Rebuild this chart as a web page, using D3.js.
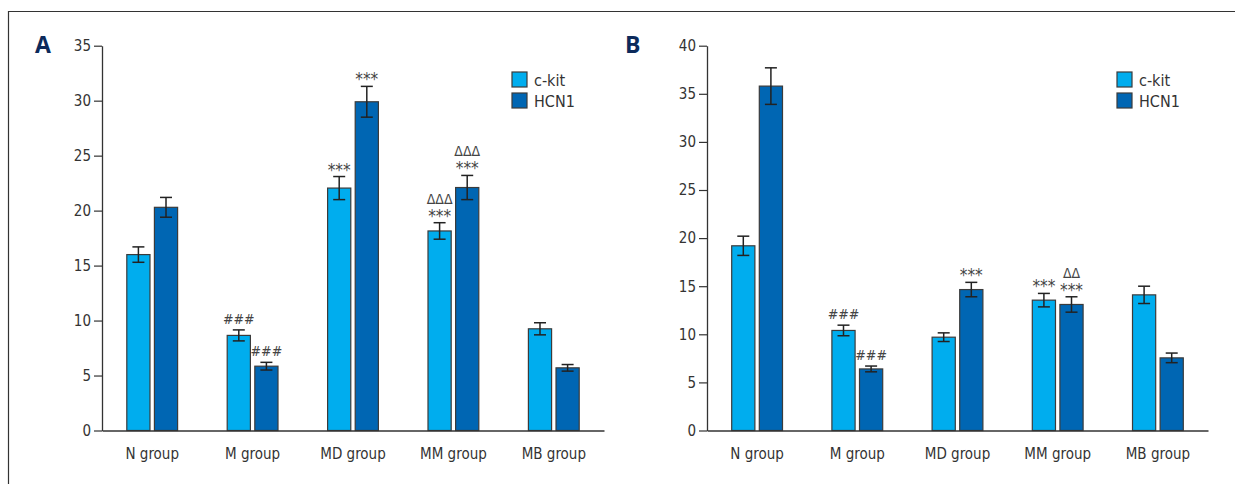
<!DOCTYPE html>
<meta charset="utf-8">
<style>
  body { margin: 0; background: #fff; }
  svg text { font-family: "Liberation Sans Narrow", "DejaVu Sans Condensed", "Open Sans", sans-serif; }
</style>
<body>
<script src="https://cdn.jsdelivr.net/npm/d3@7/dist/d3.min.js"></script>
<script>

    var width = 1235,
        height = 484;

    // data
    var groups = ["N group", "M group", "MD group", "MM group", "MB group"];
    var seriesNames = ["c-kit", "HCN1"];

    var ckitA = [16.0, 8.65, 22.05, 18.15, 9.25];
    var ckitErrA = [0.7, 0.5, 1.05, 0.75, 0.55];
    var hcnA = [20.3, 5.85, 29.9, 22.1, 5.7];
    var hcnErrA = [0.9, 0.35, 1.4, 1.1, 0.3];

    var ckitB = [19.2, 10.4, 9.7, 13.55, 14.1];
    var ckitErrB = [1.0, 0.55, 0.45, 0.7, 0.9];
    var hcnB = [35.8, 6.4, 14.65, 13.1, 7.55];
    var hcnErrB = [1.9, 0.3, 0.75, 0.8, 0.5];

    var ticksA = [0, 5, 10, 15, 20, 25, 30, 35];
    var ticksB = [0, 5, 10, 15, 20, 25, 30, 35, 40];

    // significance marks, per series then per group (top line first)
    var marksA = [
        [[], ["###"], ["***"], ["ΔΔΔ", "***"], []],
        [[], ["###"], ["***"], ["ΔΔΔ", "***"], []]
    ];
    var marksB = [
        [[], ["###"], [], ["***"], []],
        [[], ["###"], ["***"], ["ΔΔ", "***"], []]
    ];

    var colors = ["#00adee", "#0066b3"];

    var svg = d3.select("body").append("svg")
            .attr("width", width)
            .attr("height", height);

    // figure frame (top and left only)
    svg.append("path")
        .attr("d", "M8.5," + height + "V11.5H" + width)
        .attr("fill", "none")
        .attr("stroke", "#333")
        .attr("stroke-width", 1.2);

    drawPanel({
        letter: "A", letterX: 35,
        x0: 102, x1: 604,
        ticks: ticksA,
        values: [ckitA, hcnA],
        errs: [ckitErrA, hcnErrA],
        marks: marksA
    });

    drawPanel({
        letter: "B", letterX: 625,
        x0: 707, x1: 1208,
        ticks: ticksB,
        values: [ckitB, hcnB],
        errs: [ckitErrB, hcnErrB],
        marks: marksB
    });

    function drawPanel(p) {
        var g = svg.append("g");
        var yTop = 45.7, yBot = 430.5;

        var y = d3.scaleLinear()
                .domain([0, d3.max(p.ticks)])
                .range([yBot, yTop]);

        var x = d3.scaleBand()
                .domain(groups)
                .range([p.x0, p.x1])
                .padding(0);

        var xs = d3.scaleBand()
                .domain(seriesNames)
                .range([-25.4, 25.4])
                .paddingInner(0.16);

        // panel letter
        g.append("text")
            .attr("x", p.letterX)
            .attr("y", 53)
            .attr("fill", "#0c2a5b")
            .style("font-family", "'Open Sans', 'DejaVu Sans', sans-serif")
            .style("font-weight", "bold")
            .style("font-size", "23px")
            .text(p.letter);

        // y axis
        var yAxis = g.append("g")
            .attr("transform", "translate(" + p.x0 + ",0)")
            .call(d3.axisLeft(y).tickValues(p.ticks).tickSize(8).tickSizeOuter(0).tickPadding(3));
        yAxis.select(".domain").attr("stroke", "#333").attr("stroke-width", 1.3);
        yAxis.selectAll(".tick line").attr("stroke", "#333").attr("stroke-width", 1.2);
        yAxis.selectAll(".tick text")
            .attr("fill", "#333")
            .style("font-size", "15px");

        // bars
        seriesNames.forEach(function(s, si) {
            var vals = p.values[si], errs = p.errs[si];
            var data = groups.map(function(gr, i) {
                return { group: gr, v: vals[i], e: errs[i], marks: p.marks[si][i] };
            });
            var sg = g.append("g");
            sg.selectAll("rect")
                .data(data)
                .enter().append("rect")
                .attr("x", function(d) { return x(d.group) + x.bandwidth() / 2 + xs(s); })
                .attr("y", function(d) { return y(d.v); })
                .attr("width", xs.bandwidth())
                .attr("height", function(d) { return yBot - y(d.v); })
                .attr("fill", colors[si])
                .attr("stroke", "#3b3b3b")
                .attr("stroke-width", 1.2);

            var eb = sg.selectAll(".err")
                .data(data)
                .enter().append("g")
                .attr("class", "err")
                .attr("transform", function(d) {
                    return "translate(" + (x(d.group) + x.bandwidth() / 2 + xs(s) + xs.bandwidth() / 2) + ",0)";
                })
                .attr("stroke", "#222")
                .attr("stroke-width", 1.5);
            eb.append("line")
                .attr("y1", function(d) { return y(d.v - d.e); })
                .attr("y2", function(d) { return y(d.v + d.e); });
            eb.append("line")
                .attr("x1", -6).attr("x2", 6)
                .attr("y1", function(d) { return y(d.v + d.e); })
                .attr("y2", function(d) { return y(d.v + d.e); });
            eb.append("line")
                .attr("x1", -6).attr("x2", 6)
                .attr("y1", function(d) { return y(d.v - d.e); })
                .attr("y2", function(d) { return y(d.v - d.e); });

            // significance marks
            data.forEach(function(d) {
                var cx = x(d.group) + x.bandwidth() / 2 + xs(s) + xs.bandwidth() / 2;
                var n = d.marks.length;
                d.marks.forEach(function(m, mi) {
                    var star = m === "***";
                    var base = y(d.v + d.e) - (star ? 1 : 6);
                    if (!star) base -= (n - 1 - mi) * 13;
                    g.append("text")
                        .attr("x", cx)
                        .attr("y", base)
                        .attr("text-anchor", "middle")
                        .attr("fill", "#444")
                        .style("font-size", star ? "17px" : "14px")
                        .text(m);
                });
            });
        });

        // x axis with group labels
        var xAxis = g.append("g")
            .attr("transform", "translate(0," + yBot + ")")
            .call(d3.axisBottom(x).tickSize(0).tickPadding(18));
        xAxis.select(".domain").attr("stroke", "#333").attr("stroke-width", 1.3);
        xAxis.selectAll(".tick text")
            .attr("fill", "#333")
            .style("font-size", "15px");

        // legend
        var lg = g.append("g")
            .attr("transform", "translate(" + (p.x0 + 410) + ",72)");
        seriesNames.forEach(function(s, i) {
            lg.append("rect")
                .attr("x", 0).attr("y", i * 21)
                .attr("width", 15).attr("height", 15)
                .attr("fill", colors[i])
                .attr("stroke", "#3b3b3b")
                .attr("stroke-width", 1.2);
            lg.append("text")
                .attr("x", 22).attr("y", i * 21 + 14)
                .attr("fill", "#333")
                .style("font-size", "16px")
                .text(s);
        });
    }

</script>
